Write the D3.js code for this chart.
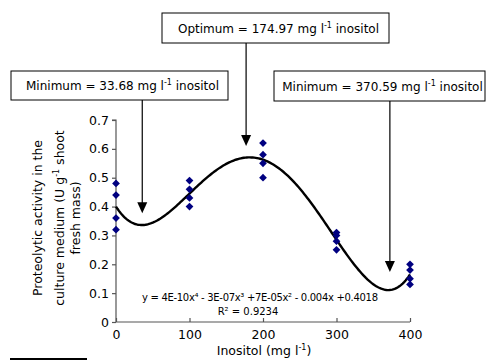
<!DOCTYPE html>
<html>
<head>
<meta charset="utf-8">
<script src="https://cdn.jsdelivr.net/npm/d3@7"></script>
<style>
  body { margin: 0; background: #fff; }
  svg text { font-family: 'DejaVu Sans', Verdana, sans-serif; fill: #000; }
</style>
</head>
<body>
<script>
// inositol levels and measured activity (4 replicates each)
var inositol = [0, 100, 200, 300, 400]
var activity = [
  [0.48, 0.44, 0.36, 0.32],
  [0.49, 0.46, 0.43, 0.40],
  [0.62, 0.58, 0.55, 0.50],
  [0.31, 0.30, 0.28, 0.25],
  [0.20, 0.18, 0.15, 0.13]
]
var xTicks = [0, 100, 200, 300, 400]
var yTicks = [0, 0.1, 0.2, 0.3, 0.4, 0.5, 0.6, 0.7]

// annotation boxes: label, x value pointed at, arrow tip value
var notes = [
  { pre: 'Minimum = 33.68 mg l', post: ' inositol', at: 33.68, tip: 0.377 },
  { pre: 'Optimum = 174.97 mg l', post: ' inositol', at: 174.97, tip: 0.61 },
  { pre: 'Minimum = 370.59 mg l', post: ' inositol', at: 370.59, tip: 0.173 }
]

var width = 490
var height = 361

var svg = d3.select('body').append('svg')
  .attr('width', width)
  .attr('height', height)

var x = d3.scaleLinear().domain([0, 400]).range([116, 410])
var y = d3.scaleLinear().domain([0, 0.7]).range([322, 120])

// flatten points
var points = []
inositol.forEach(function (xv, i) {
  activity[i].forEach(function (v) { points.push({ x: xv, y: v }) })
})

// least squares 4th order polynomial (like the excel trendline)
function polyFit (pts, order) {
  var n = order + 1
  var A = []
  for (var r = 0; r < n; r++) { A.push(new Array(n + 1).fill(0)) }
  pts.forEach(function (p) {
    var t = p.x / 100
    for (var r = 0; r < n; r++) {
      for (var c = 0; c < n; c++) A[r][c] += Math.pow(t, r + c)
      A[r][n] += p.y * Math.pow(t, r)
    }
  })
  for (var i = 0; i < n; i++) {
    var piv = i
    for (var k = i + 1; k < n; k++) if (Math.abs(A[k][i]) > Math.abs(A[piv][i])) piv = k
    var tmp = A[i]; A[i] = A[piv]; A[piv] = tmp
    for (var k2 = 0; k2 < n; k2++) {
      if (k2 === i) continue
      var f = A[k2][i] / A[i][i]
      for (var c2 = i; c2 <= n; c2++) A[k2][c2] -= f * A[i][c2]
    }
  }
  return A.map(function (row, i) { return row[n] / row[i] })
}
var coef = polyFit(points, 4)
function trend (xv) {
  var t = xv / 100
  return coef.reduce(function (s, c, i) { return s + c * Math.pow(t, i) }, 0)
}

// axes
var axisColor = '#555'
var yAxis = svg.append('g').attr('transform', 'translate(' + x(0) + ',0)')
  .call(d3.axisLeft(y).tickValues(yTicks).tickSize(4).tickPadding(3)
    .tickFormat(function (d) { return d === 0 ? '0' : d3.format('.1f')(d) }))
yAxis.select('.domain').attr('d', 'M-4,' + y(0.7) + 'H0V' + y(0))
var xAxis = svg.append('g').attr('transform', 'translate(0,' + y(0) + ')')
  .call(d3.axisBottom(x).tickValues(xTicks).tickSize(-4).tickPadding(8))
xAxis.select('.domain').attr('d', 'M' + x(0) + ',0H' + x(400))
svg.selectAll('.domain, .tick line').attr('stroke', axisColor).attr('stroke-width', 1.2)
svg.selectAll('.tick text').style('font-size', '12.5px').style('font-family', "'DejaVu Sans', Verdana, sans-serif")

// trendline
var line = d3.line()
  .x(function (d) { return x(d) })
  .y(function (d) { return y(trend(d)) })
svg.append('path')
  .attr('d', line(d3.range(0, 401, 2)))
  .attr('fill', 'none')
  .attr('stroke', '#000')
  .attr('stroke-width', 2.4)

// points
svg.selectAll('.dot')
  .data(points)
  .enter().append('path')
  .attr('class', 'dot')
  .attr('d', d3.symbol().type(d3.symbolSquare).size(30))
  .attr('transform', function (d) { return 'translate(' + x(d.x) + ',' + y(d.y) + ') rotate(45)' })
  .attr('fill', '#000080')

// equation
svg.append('text')
  .attr('x', 260).attr('y', 301)
  .attr('text-anchor', 'middle')
  .style('font-size', '10px')
  .attr('textLength', 236)
  .text('y = 4E-10x\u2074 - 3E-07x\u00b3 +7E-05x\u00b2 - 0.004x +0.4018')
svg.append('text')
  .attr('x', 248).attr('y', 315)
  .attr('text-anchor', 'middle')
  .style('font-size', '10px')
  .text('R\u00b2 = 0.9234')

// axis titles
var xt = svg.append('text')
  .attr('x', 264).attr('y', 355)
  .attr('text-anchor', 'middle')
  .style('font-size', '12.5px')
xt.append('tspan').text('Inositol (mg l')
xt.append('tspan').attr('dy', -5).style('font-size', '8px').text('-1')
xt.append('tspan').attr('dy', 5).text(')')

var yt = svg.append('g').attr('transform', 'translate(0,218) rotate(-90)')
yt.append('text').attr('x', 0).attr('y', 42).attr('text-anchor', 'middle')
  .style('font-size', '12.5px').text('Proteolytic activity in the')
var yl2 = yt.append('text').attr('x', 0).attr('y', 64).attr('text-anchor', 'middle')
  .style('font-size', '12.5px')
yl2.append('tspan').text('culture medium (U g')
yl2.append('tspan').attr('dy', -5).style('font-size', '8px').text('-1')
yl2.append('tspan').attr('dy', 5).text(' shoot')
yt.append('text').attr('x', 0).attr('y', 80).attr('text-anchor', 'middle')
  .style('font-size', '12.5px').text('fresh mass)')

// annotation boxes
var boxes = [
  { x0: 11, x1: 228, y0: 71, y1: 100 },
  { x0: 162, x1: 389, y0: 13, y1: 43 },
  { x0: 274, x1: 485, y0: 71, y1: 101 }
]
notes.forEach(function (n, i) {
  var b = boxes[i]
  var ax = x(n.at) + 1.5
  var ty = y(n.tip)
  svg.append('line')
    .attr('x1', ax).attr('x2', ax)
    .attr('y1', b.y1).attr('y2', ty - 9)
    .attr('stroke', '#000').attr('stroke-width', 1.2)
  svg.append('path')
    .attr('d', 'M' + (ax - 5) + ',' + (ty - 11) + 'L' + (ax + 5) + ',' + (ty - 11) + 'L' + ax + ',' + ty + 'Z')
    .attr('fill', '#000')
  svg.append('rect')
    .attr('x', b.x0).attr('y', b.y0)
    .attr('width', b.x1 - b.x0).attr('height', b.y1 - b.y0)
    .attr('fill', '#fff').attr('stroke', '#000').attr('stroke-width', 1)
  var t = svg.append('text')
    .attr('x', (b.x0 + b.x1) / 2 + 3).attr('y', (b.y0 + b.y1) / 2 + 4.5)
    .attr('text-anchor', 'middle')
    .style('font-size', '12px')
  t.append('tspan').text(n.pre)
  t.append('tspan').attr('dy', -5).style('font-size', '8px').text('-1')
  t.append('tspan').attr('dy', 5).text(n.post)
})

// stray footnote rule bottom left
svg.append('line')
  .attr('x1', 10).attr('x2', 87)
  .attr('y1', 359).attr('y2', 359)
  .attr('stroke', '#000').attr('stroke-width', 2)
</script>
</body>
</html>
